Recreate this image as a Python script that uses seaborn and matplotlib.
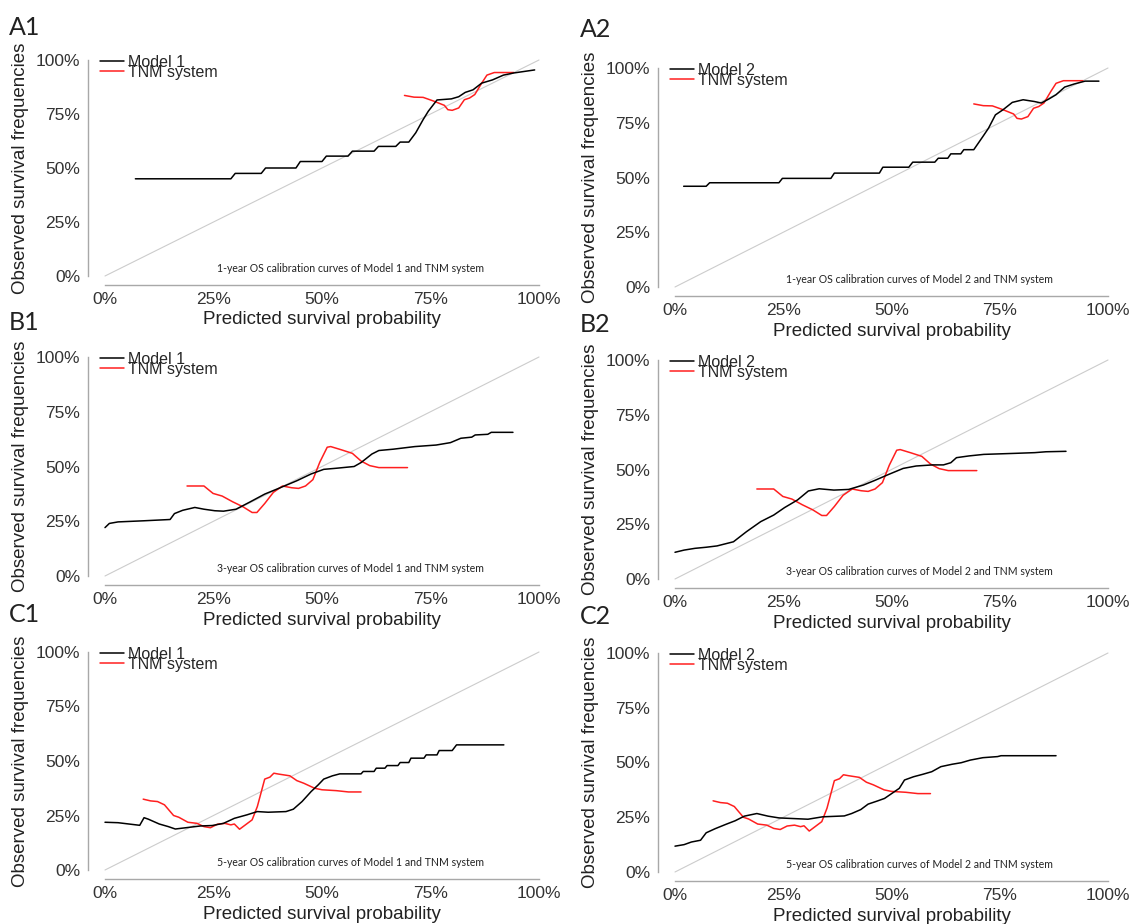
import matplotlib
matplotlib.use('Agg')
import matplotlib.pyplot as plt
import seaborn as sns

sns.set_style('white')
plt.rcParams['font.family'] = ['Liberation Sans', 'DejaVu Sans']

# ---- data ----
ideal = [0, 1]

# 1-year
m1_1y_x = [0.07, 0.29, 0.30, 0.36, 0.37, 0.44, 0.45, 0.50, 0.51, 0.56, 0.57, 0.62, 0.63, 0.67, 0.68, 0.70,
           0.716, 0.733, 0.745, 0.765, 0.798, 0.815, 0.83, 0.848, 0.868, 0.893, 0.918, 0.942, 0.99]
m1_1y_y = [0.45, 0.45, 0.475, 0.475, 0.50, 0.50, 0.53, 0.53, 0.555, 0.555, 0.578, 0.578, 0.60, 0.60, 0.62, 0.62,
           0.663, 0.724, 0.763, 0.815, 0.82, 0.83, 0.85, 0.862, 0.893, 0.908, 0.93, 0.94, 0.954]
m2_1y_x = [0.02, 0.072, 0.08, 0.24, 0.248, 0.36, 0.368, 0.472, 0.48, 0.54, 0.549, 0.60, 0.608, 0.63, 0.637,
           0.66, 0.667, 0.69, 0.711, 0.724, 0.74, 0.758, 0.779, 0.804, 0.83, 0.846, 0.863, 0.88, 0.90, 0.922,
           0.947, 0.979]
m2_1y_y = [0.46, 0.46, 0.476, 0.476, 0.496, 0.496, 0.52, 0.52, 0.547, 0.547, 0.57, 0.57, 0.588, 0.588, 0.608,
           0.608, 0.627, 0.627, 0.687, 0.725, 0.786, 0.81, 0.843, 0.855, 0.847, 0.84, 0.858, 0.878, 0.913, 0.927,
           0.94, 0.94]
tnm_1y_x = [0.69, 0.712, 0.733, 0.757, 0.782, 0.79, 0.80, 0.815, 0.828, 0.84, 0.852, 0.868, 0.88, 0.897,
            0.918, 0.942]
tnm_1y_y = [0.836, 0.828, 0.827, 0.81, 0.79, 0.77, 0.767, 0.778, 0.816, 0.824, 0.84, 0.893, 0.93, 0.942,
            0.942, 0.942]

# 3-year
m1_3y_x = [0.0, 0.01, 0.03, 0.088, 0.15, 0.16, 0.179, 0.207, 0.228, 0.253, 0.273, 0.302, 0.335, 0.368, 0.40,
           0.442, 0.475, 0.504, 0.533, 0.574, 0.59, 0.615, 0.631, 0.664, 0.714, 0.763, 0.796, 0.82, 0.845,
           0.853, 0.882, 0.89, 0.94]
m1_3y_y = [0.221, 0.24, 0.247, 0.252, 0.258, 0.285, 0.30, 0.313, 0.305, 0.298, 0.296, 0.305, 0.339, 0.374,
           0.40, 0.435, 0.466, 0.487, 0.492, 0.50, 0.518, 0.557, 0.573, 0.579, 0.591, 0.598, 0.609, 0.629,
           0.634, 0.644, 0.647, 0.656, 0.656]
m2_3y_x = [0.0, 0.021, 0.046, 0.072, 0.097, 0.135, 0.165, 0.198, 0.228, 0.253, 0.283, 0.308, 0.333, 0.367,
           0.401, 0.435, 0.46, 0.494, 0.527, 0.557, 0.595, 0.62, 0.637, 0.65, 0.679, 0.713, 0.789, 0.831,
           0.857, 0.903]
m2_3y_y = [0.122, 0.132, 0.14, 0.145, 0.151, 0.17, 0.216, 0.262, 0.292, 0.326, 0.361, 0.402, 0.412, 0.406,
           0.409, 0.429, 0.449, 0.478, 0.505, 0.516, 0.521, 0.521, 0.531, 0.554, 0.562, 0.569, 0.574, 0.577,
           0.581, 0.583]
tnm_3y_x = [0.189, 0.228, 0.249, 0.27, 0.294, 0.318, 0.339, 0.35, 0.368, 0.388, 0.409, 0.43, 0.446, 0.462,
            0.479, 0.495, 0.512, 0.52, 0.545, 0.57, 0.59, 0.61, 0.631, 0.697]
tnm_3y_y = [0.411, 0.411, 0.377, 0.365, 0.339, 0.316, 0.29, 0.29, 0.331, 0.382, 0.411, 0.403, 0.40, 0.411,
            0.44, 0.52, 0.588, 0.591, 0.576, 0.56, 0.525, 0.504, 0.495, 0.495]

# 5-year
m1_5y_x = [0.0, 0.03, 0.055, 0.08, 0.09, 0.10, 0.125, 0.146, 0.162, 0.195, 0.22, 0.247, 0.273, 0.298, 0.327,
           0.351, 0.376, 0.417, 0.434, 0.454, 0.475, 0.491, 0.504, 0.524, 0.541, 0.59, 0.595, 0.62, 0.625,
           0.645, 0.65, 0.675, 0.68, 0.70, 0.705, 0.735, 0.74, 0.765, 0.77, 0.80, 0.81, 0.919]
m1_5y_y = [0.219, 0.217, 0.211, 0.205, 0.24, 0.233, 0.211, 0.199, 0.188, 0.196, 0.202, 0.204, 0.214, 0.237,
           0.253, 0.268, 0.265, 0.268, 0.279, 0.314, 0.36, 0.39, 0.417, 0.432, 0.441, 0.441, 0.452, 0.452,
           0.467, 0.467, 0.479, 0.479, 0.493, 0.493, 0.513, 0.513, 0.528, 0.528, 0.548, 0.548, 0.574, 0.574]
m2_5y_x = [0.0, 0.021, 0.038, 0.059, 0.072, 0.093, 0.118, 0.139, 0.16, 0.189, 0.215, 0.24, 0.274, 0.307,
           0.341, 0.391, 0.408, 0.429, 0.446, 0.467, 0.484, 0.501, 0.518, 0.53, 0.551, 0.572, 0.593, 0.614,
           0.64, 0.661, 0.682, 0.711, 0.745, 0.753, 0.88]
m2_5y_y = [0.118, 0.125, 0.137, 0.145, 0.179, 0.198, 0.218, 0.234, 0.255, 0.267, 0.255, 0.247, 0.244, 0.241,
           0.252, 0.256, 0.267, 0.285, 0.31, 0.324, 0.336, 0.359, 0.382, 0.42, 0.435, 0.446, 0.458, 0.481,
           0.492, 0.499, 0.511, 0.522, 0.527, 0.531, 0.531]
tnm_5y_x = [0.088, 0.105, 0.121, 0.137, 0.158, 0.17, 0.191, 0.212, 0.228, 0.243, 0.259, 0.276, 0.29, 0.298,
            0.31, 0.339, 0.351, 0.368, 0.38, 0.389, 0.40, 0.426, 0.442, 0.458, 0.483, 0.50, 0.533, 0.561, 0.59]
tnm_5y_y = [0.325, 0.317, 0.314, 0.299, 0.25, 0.242, 0.219, 0.214, 0.199, 0.194, 0.21, 0.214, 0.207, 0.211,
            0.187, 0.23, 0.291, 0.417, 0.426, 0.444, 0.44, 0.432, 0.41, 0.398, 0.375, 0.368, 0.364, 0.358, 0.358]

tick_vals = [0, 0.25, 0.5, 0.75, 1.0]
tick_labels = ['0%', '25%', '50%', '75%', '100%']

W, H = 1133, 924
fig = plt.figure(figsize=(W / 100, H / 100), dpi=100)


def make_axes(x0, x1, y0, y1):
    # pixel positions of data 0 and 1 (from top-left), R-style 4% padding
    pad = 0.04
    left = x0 - pad * (x1 - x0)
    width = (1 + 2 * pad) * (x1 - x0)
    bottom = y0 + pad * (y0 - y1)
    height = (1 + 2 * pad) * (y0 - y1)
    return fig.add_axes([left / W, 1 - bottom / H, width / W, height / H])


def draw_panel(ax, model_name, mx, my, tx, ty, caption):
    ax.plot(ideal, ideal, color='#cccccc', lw=0.8, zorder=1)
    sns.lineplot(x=mx, y=my, color='black', lw=1.1, label=model_name, ax=ax,
                 estimator=None, sort=False, zorder=3)
    sns.lineplot(x=tx, y=ty, color='#ff1f1f', lw=1.1, label='TNM system', ax=ax,
                 estimator=None, sort=False, zorder=2)
    ax.set_xlim(-0.04, 1.04)
    ax.set_ylim(-0.04, 1.04)
    ax.set_xticks(tick_vals)
    ax.set_xticklabels(tick_labels)
    ax.set_yticks(tick_vals)
    ax.set_yticklabels(tick_labels)
    for s in ['top', 'right']:
        ax.spines[s].set_visible(False)
    for s in ['left', 'bottom']:
        ax.spines[s].set_bounds(0, 1)
        ax.spines[s].set_color('#a8a8a8')
        ax.spines[s].set_linewidth(1.0)
    ax.tick_params(length=3.5, width=0.9, color='#a8a8a8', labelsize=12.5, labelcolor='#333333', pad=2)
    ax.set_xlabel('Predicted survival probability', fontsize=13.5, color='#222222', labelpad=3)
    ax.set_ylabel('Observed survival frequencies', fontsize=13.5, color='#222222', labelpad=5)
    ax.legend(loc='upper left', bbox_to_anchor=(-0.012, 1.025), bbox_transform=ax.transData,
              frameon=False, fontsize=11.5, handlelength=1.5, handletextpad=0.25,
              labelspacing=-0.3, borderpad=0, borderaxespad=0)
    ax.text(0.565, 0.035, caption, fontsize=7.6, family=['Lato', 'DejaVu Sans'],
            ha='center', va='center', color='#222222')


panels = [
    ('A1', (105, 539, 276, 60), (9, 16), 'Model 1', m1_1y_x, m1_1y_y, tnm_1y_x, tnm_1y_y,
     '1-year OS calibration curves of Model 1 and TNM system'),
    ('A2', (675, 1108, 287, 68), (580, 18), 'Model 2', m2_1y_x, m2_1y_y, tnm_1y_x, tnm_1y_y,
     '1-year OS calibration curves of Model 2 and TNM system'),
    ('B1', (105, 539, 576, 357), (9, 311), 'Model 1', m1_3y_x, m1_3y_y, tnm_3y_x, tnm_3y_y,
     '3-year OS calibration curves of Model 1 and TNM system'),
    ('B2', (675, 1108, 579, 360), (580, 313), 'Model 2', m2_3y_x, m2_3y_y, tnm_3y_x, tnm_3y_y,
     '3-year OS calibration curves of Model 2 and TNM system'),
    ('C1', (105, 539, 870, 652), (9, 603), 'Model 1', m1_5y_x, m1_5y_y, tnm_5y_x, tnm_5y_y,
     '5-year OS calibration curves of Model 1 and TNM system'),
    ('C2', (675, 1108, 872, 653), (580, 605), 'Model 2', m2_5y_x, m2_5y_y, tnm_5y_x, tnm_5y_y,
     '5-year OS calibration curves of Model 2 and TNM system'),
]

for tag, box, tagpos, name, mx, my, tx, ty, cap in panels:
    ax = make_axes(*box)
    draw_panel(ax, name, mx, my, tx, ty, cap)
    fig.text(tagpos[0] / W, 1 - tagpos[1] / H, tag, fontsize=18, family=['Lato', 'DejaVu Sans'],
             color='#222222', ha='left', va='top')

fig.savefig('out.png', dpi=100, facecolor='white')
